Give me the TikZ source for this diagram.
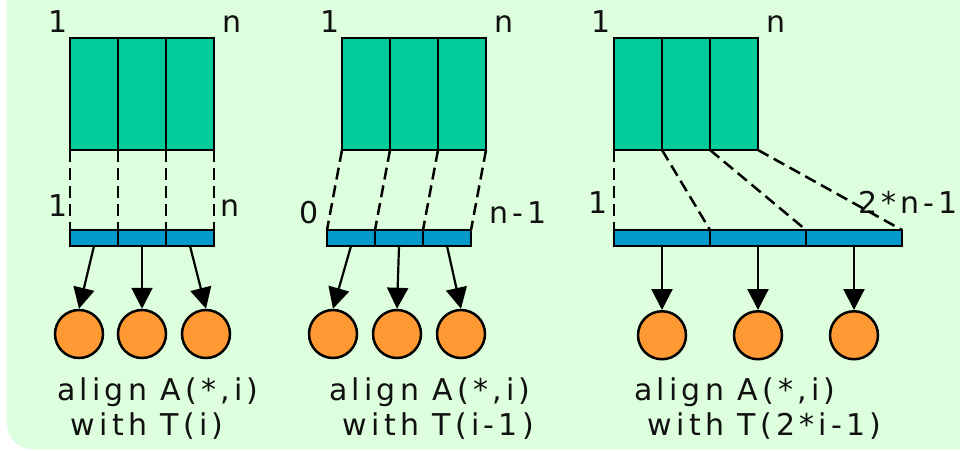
\documentclass[tikz,border=0pt]{standalone}
\usepackage{xcolor}
\usepackage{fontspec}
\newfontfamily\diagfont{DejaVu Sans}[LetterSpace=14]
\usetikzlibrary{arrows.meta, positioning, calc}
\definecolor{panelbg}{HTML}{DDFFDD}
\definecolor{colfill}{HTML}{00CC99}
\definecolor{tmplfill}{HTML}{0099CC}
\definecolor{procfill}{HTML}{FF9933}
\definecolor{textcolor}{HTML}{111111}
\tikzset{
  colbox/.style={
    draw=black,
    fill=colfill,
    line width=2.5pt,
    minimum width=48pt,
    minimum height=112pt,
    inner sep=0pt,
    outer sep=0pt
  },
  tmplbox/.style={
    draw=black,
    fill=tmplfill,
    line width=2.5pt,
    minimum width=48pt,
    minimum height=16pt,
    inner sep=0pt,
    outer sep=0pt
  },
  procnode/.style={
    circle,
    draw=black,
    fill=procfill,
    line width=2.5pt,
    minimum size=48pt,
    inner sep=0pt
  },
  idxlabel/.style={
    font=\diagfont\fontsize{30}{35}\selectfont,
    text=textcolor,
    inner sep=0pt,
    anchor=base west
  },
  caption/.style={
    font=\diagfont\fontsize{30}{35}\selectfont,
    text=textcolor,
    align=left,
    inner sep=0pt,
    anchor=north west
  },
  mapline/.style={
    dash pattern=on 12pt off 6pt,
    line width=2.5pt
  },
  arrowp/.style={
    -{Triangle[length=21pt, width=21pt]},
    line width=2.2pt
  }
}

\begin{document}
\begin{tikzpicture}[x=1pt, y=-1pt]

  \useasboundingbox (0,0) rectangle (960,450);
  \clip (0,0) rectangle (960,450);
  \fill [panelbg, rounded corners=25pt] (7,-40) rectangle (1000,449);

  % ==================== ALIGN WITH T(i) ====================
  \node (a11) [colbox] at (94,94) {};
  \node (a12) [colbox, right=0pt of a11] {};
  \node (a13) [colbox, right=0pt of a12] {};

  \node (t11) [tmplbox] at (94,238) {};
  \node (t12) [tmplbox, right=0pt of t11] {};
  \node (t13) [tmplbox, right=0pt of t12] {};

  \node (c11) [procnode] at (79,334) {};
  \node (c12) [procnode] at (142,334) {};
  \node (c13) [procnode] at (206,334) {};

  \node (a1first) [idxlabel] at (48,32) {1};
  \node (a1last) [idxlabel] at (222,32) {n};
  \node (t1first) [idxlabel] at (48,216) {1};
  \node (t1last) [idxlabel] at (220,216) {n};

  \node (cap1) [caption] at (57,377) {align A(*,i)\\\ with T(i)};

  \draw [mapline] (a11.south west) -- (t11.north west);
  \draw [mapline] (a12.south west) -- (t12.north west);
  \draw [mapline] (a13.south west) -- (t13.north west);
  \draw [mapline] (a13.south east) -- (t13.north east);

  \draw [arrowp] (t11.south) -- (c11.north);
  \draw [arrowp] (t12.south) -- (c12.north);
  \draw [arrowp] (t13.south) -- (c13.north);

  % ==================== ALIGN WITH T(i-1) ====================
  \node (a21) [colbox] at (366,94) {};
  \node (a22) [colbox, right=0pt of a21] {};
  \node (a23) [colbox, right=0pt of a22] {};

  \node (t21) [tmplbox] at (351,238) {};
  \node (t22) [tmplbox, right=0pt of t21] {};
  \node (t23) [tmplbox, right=0pt of t22] {};

  \node (c21) [procnode] at (333,334) {};
  \node (c22) [procnode] at (397,334) {};
  \node (c23) [procnode] at (461,334) {};

  \node (a2first) [idxlabel] at (320,32) {1};
  \node (a2last) [idxlabel] at (494,32) {n};
  \node (t2first) [idxlabel] at (299,223) {0};
  \node (t2last) [idxlabel] at (489,223) {n-1};

  \node (cap2) [caption] at (329,377) {align A(*,i)\\\ with T(i-1)};

  \draw [mapline] (a21.south west) -- (t21.north west);
  \draw [mapline] (a22.south west) -- (t22.north west);
  \draw [mapline] (a23.south west) -- (t23.north west);
  \draw [mapline] (a23.south east) -- (t23.north east);

  \draw [arrowp] (t21.south) -- (c21.north);
  \draw [arrowp] (t22.south) -- (c22.north);
  \draw [arrowp] (t23.south) -- (c23.north);

  % ==================== ALIGN WITH T(2*i-1) ====================
  \node (a31) [colbox] at (638,94) {};
  \node (a32) [colbox, right=0pt of a31] {};
  \node (a33) [colbox, right=0pt of a32] {};

  \node (t31) [tmplbox, minimum width=96pt] at (662,238) {};
  \node (t32) [tmplbox, minimum width=96pt, right=0pt of t31] {};
  \node (t33) [tmplbox, minimum width=96pt, right=0pt of t32] {};

  \node (c31) [procnode, below=64pt of t31] {};
  \node (c32) [procnode, below=64pt of t32] {};
  \node (c33) [procnode, below=64pt of t33] {};

  \node (a3first) [idxlabel] at (591,32) {1};
  \node (a3last) [idxlabel] at (766,32) {n};
  \node (t3first) [idxlabel] at (588,213) {1};
  \node (t3last) [idxlabel] at (858,213) {2*n-1};

  \node (cap3) [caption] at (634,377) {align A(*,i)\\\ with T(2*i-1)};

  \draw [mapline] (a31.south west) -- (t31.north west);
  \draw [mapline] (a32.south west) -- (t32.north west);
  \draw [mapline] (a33.south west) -- (t33.north west);
  \draw [mapline] (a33.south east) -- (t33.north east);

  \draw [arrowp] (t31.south) -- (c31.north);
  \draw [arrowp] (t32.south) -- (c32.north);
  \draw [arrowp] (t33.south) -- (c33.north);

\end{tikzpicture}
\end{document}
